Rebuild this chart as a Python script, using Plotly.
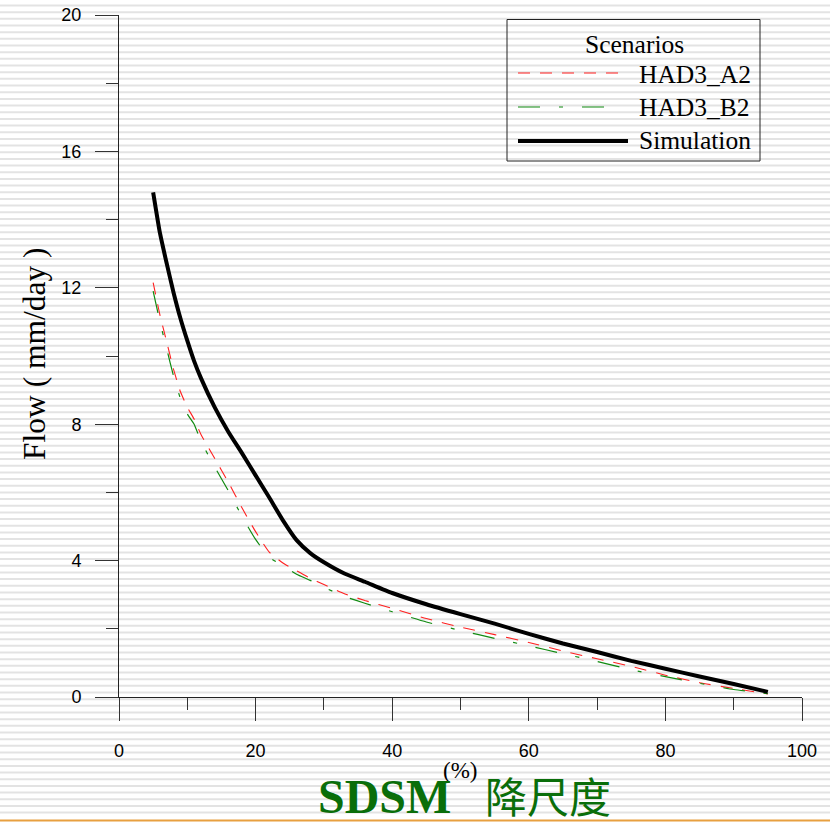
import plotly.graph_objects as go

# ---------------- data ----------------
exceed_pct = [5, 6, 7, 8, 9, 10, 11, 12, 14, 16, 18, 20, 22, 24, 26, 28, 30,
              33, 36, 40, 45, 50, 55, 60, 65, 70, 75, 80, 85, 90, 95]
had3_a2 = [12.15, 11.2, 10.4, 9.6, 8.95, 8.5, 8.15, 7.7, 7.0, 6.3, 5.55, 4.85,
           4.25, 3.93, 3.7, 3.48, 3.3, 3.03, 2.83, 2.6, 2.3, 2.05, 1.83, 1.6,
           1.35, 1.12, 0.9, 0.64, 0.42, 0.25, 0.09]
had3_b2 = [11.9, 11.0, 10.2, 9.4, 8.75, 8.3, 8.0, 7.5, 6.75, 6.05, 5.3, 4.62,
           4.1, 3.85, 3.6, 3.42, 3.22, 2.95, 2.75, 2.5, 2.2, 1.95, 1.72, 1.5,
           1.27, 1.04, 0.8, 0.6, 0.4, 0.22, 0.1]
simulation = [14.8, 13.6, 12.7, 11.85, 11.1, 10.45, 9.85, 9.35, 8.5, 7.78,
              7.15, 6.5, 5.85, 5.18, 4.6, 4.22, 3.95, 3.62, 3.38, 3.05, 2.72,
              2.43, 2.15, 1.85, 1.57, 1.32, 1.06, 0.83, 0.6, 0.38, 0.15]

series_names = ["HAD3_A2", "HAD3_B2", "Simulation"]
legend_title = "Scenarios"
x_ticks = [0, 20, 40, 60, 80, 100]
y_ticks = [0, 4, 8, 12, 16, 20]
y_title = "Flow ( mm/day )"
x_title = "(%)"
banner_latin = "SDSM"
banner_cjk = "降尺度"

# ---------------- layout geometry ----------------
W, H = 830, 822
L, R, T, B = 119, 28, 15, 125
PW, PH = W - L - R, H - T - B


def px(xp):
    return (xp - L) / PW


def py(yp):
    return (H - B - yp) / PH


styles = [
    dict(color="#ff2020", width=1.1, dash="12px,10px"),
    dict(color="#108a10", width=1.2, dash="22px,19px,4px,19px"),
    dict(color="black", width=4, dash="solid"),
]

fig = go.Figure()
for name, ys, st in zip(series_names, [had3_a2, had3_b2, simulation], styles):
    fig.add_trace(go.Scatter(x=exceed_pct, y=ys, mode="lines", name=name,
                             line=dict(shape="spline", smoothing=0.5, **st),
                             showlegend=False))

shapes = []
# striped slide background
yp = 5.5
while yp < H - 3:
    shapes.append(dict(type="line", xref="paper", yref="paper",
                       x0=px(0), x1=px(W), y0=py(yp), y1=py(yp),
                       line=dict(color="#e3e3e3", width=2), layer="below"))
    yp += 6.67
# orange bottom rule
shapes.append(dict(type="line", xref="paper", yref="paper",
                   x0=px(0), x1=px(W), y0=py(820.5), y1=py(820.5),
                   line=dict(color="#e8a040", width=2), layer="below"))

# custom legend box
shapes.append(dict(type="rect", xref="paper", yref="paper",
                   x0=px(507), x1=px(760), y0=py(161), y1=py(19.5),
                   line=dict(color="#222", width=1), fillcolor="rgba(0,0,0,0)"))
legend_rows = [73, 107, 141]
legend_ends = [622, 614, 628]
for st, yrow, xe in zip(styles, legend_rows, legend_ends):
    shapes.append(dict(type="line", xref="paper", yref="paper",
                       x0=px(518), x1=px(xe), y0=py(yrow), y1=py(yrow),
                       line=dict(color=st["color"], width=st["width"] if st["width"] > 2 else 1.2,
                                 dash=st["dash"])))

serif = "Liberation Serif, Times New Roman, serif"
annotations = [
    dict(text=legend_title, x=px(634), y=py(45), xref="paper", yref="paper",
         showarrow=False, xanchor="center", yanchor="middle",
         font=dict(family=serif, size=25.5, color="black")),
]
for name, yrow in zip(series_names, [74, 107, 141]):
    annotations.append(dict(text=name, x=px(637), y=py(yrow), xref="paper", yref="paper",
                            showarrow=False, xanchor="left", yanchor="middle",
                            font=dict(family=serif, size=25.5, color="black")))
annotations += [
    dict(text=y_title, x=px(34), y=py(354), xref="paper", yref="paper",
         showarrow=False, textangle=-90, xanchor="center", yanchor="middle",
         font=dict(family=serif, size=31.5, color="black")),
    dict(text=x_title, x=px(460), y=py(771), xref="paper", yref="paper",
         showarrow=False, xanchor="center", yanchor="middle",
         font=dict(family=serif, size=23, color="black")),
    dict(text="<b>" + banner_latin + "</b>", x=px(384), y=py(796), xref="paper", yref="paper",
         showarrow=False, xanchor="center", yanchor="middle",
         font=dict(family=serif, size=48, color="#0a6e0a")),
    dict(text=banner_cjk, x=px(548), y=py(794), xref="paper", yref="paper",
         showarrow=False, xanchor="center", yanchor="middle",
         font=dict(family="Noto Sans CJK SC", size=42, color="#0a6e0a")),
]

tickfont = dict(family="Liberation Sans, Arial, sans-serif", size=18, color="black")
fig.update_layout(
    width=W, height=H, margin=dict(l=L, r=R, t=T, b=B, pad=0),
    paper_bgcolor="white", plot_bgcolor="rgba(0,0,0,0)",
    shapes=shapes, annotations=annotations, showlegend=False,
    xaxis=dict(range=[0, 100], tickvals=x_ticks, ticks="outside", ticklen=23,
               tickcolor="#333", tickwidth=1, showline=True, linecolor="#222",
               linewidth=1, showgrid=False, zeroline=False, tickfont=tickfont,
               ticklabelstandoff=14, automargin=False,
               minor=dict(dtick=10, ticks="outside", ticklen=12, tickcolor="#333",
                          showgrid=False)),
    yaxis=dict(range=[0, 20], tickvals=y_ticks, ticks="outside", ticklen=23,
               tickcolor="#333", tickwidth=1, showline=True, linecolor="#222",
               linewidth=1, showgrid=False, zeroline=False, tickfont=tickfont,
               ticklabelstandoff=10, automargin=False,
               minor=dict(dtick=2, ticks="outside", ticklen=12, tickcolor="#333",
                          showgrid=False)),
)

fig.write_html("out.html")
